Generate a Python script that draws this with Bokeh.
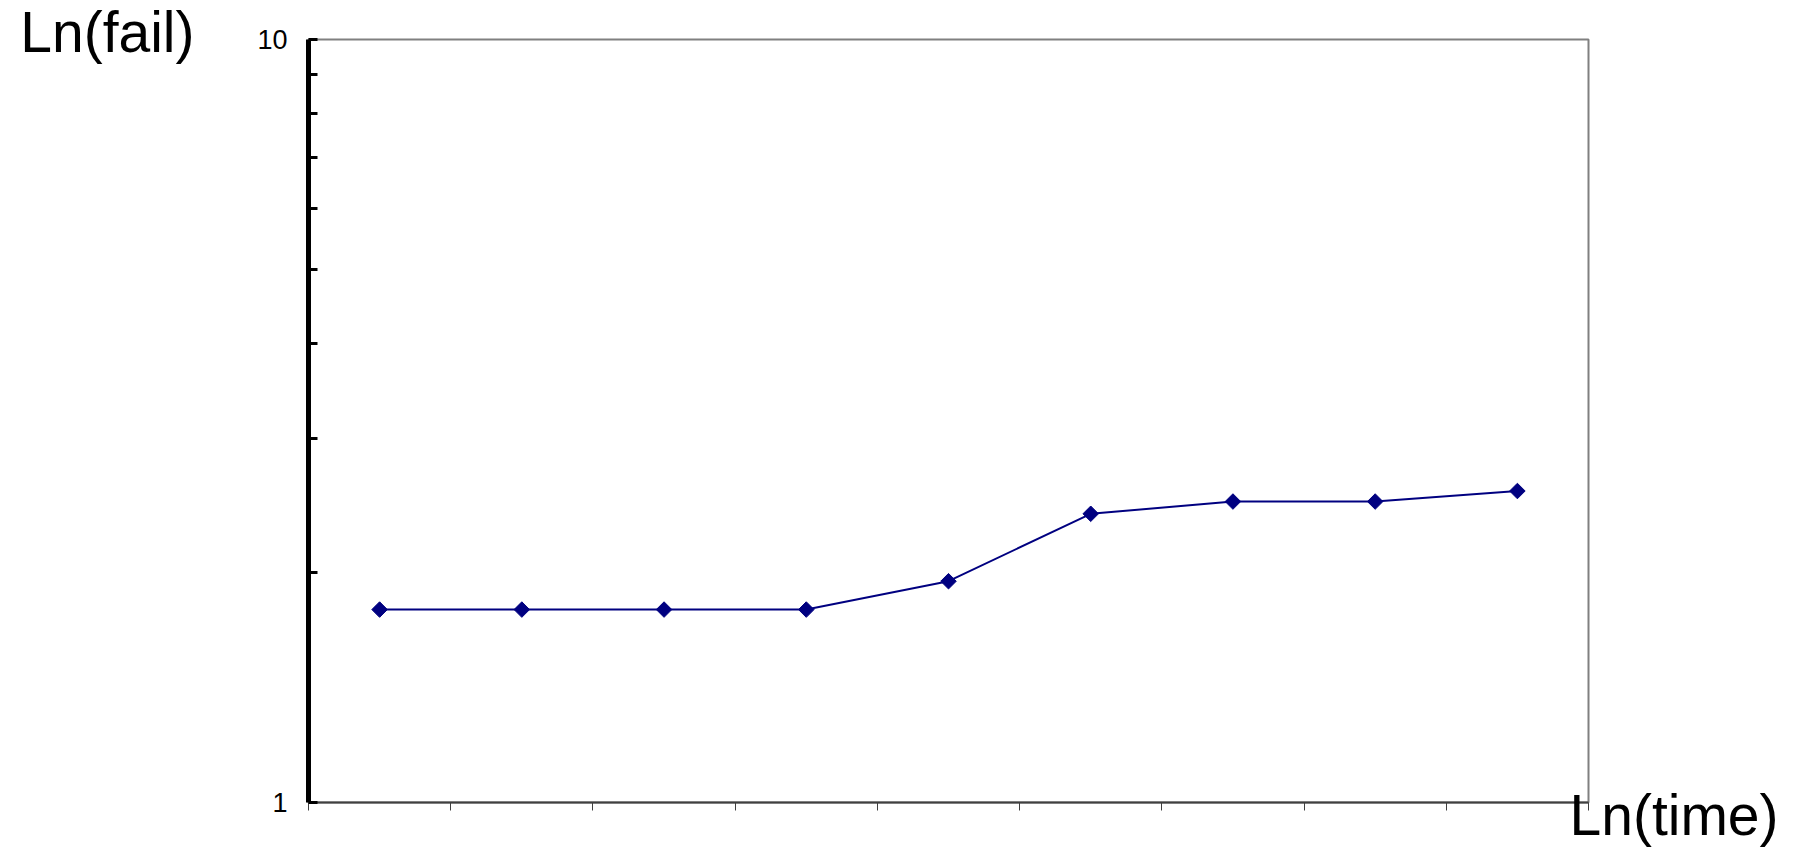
from bokeh.plotting import figure
from bokeh.models import Range1d, FixedTicker, LogAxis, CustomJSTickFormatter
from bokeh.embed import file_html
from bokeh.resources import INLINE
import math

# ---- data ----
times = [1, 2, 3, 4, 5, 6, 7, 8, 9]
fails = [1.79, 1.79, 1.79, 1.79, 1.95, 2.39, 2.48, 2.48, 2.56]
y_major_ticks = [1, 10]
y_minor_ticks = [2, 3, 4, 5, 6, 7, 8, 9]
y_tick_labels = {1: "1", 10: "10"}
x_title = "Ln(time)"
y_title = "Ln(fail)"

FONT = "Liberation Sans"
NAVY = "#000080"

p = figure(width=1806, height=847, output_backend="svg", toolbar_location=None,
           x_range=Range1d(times[0] - 0.5, times[-1] + 0.5),
           y_range=Range1d(y_major_ticks[0], y_major_ticks[-1]),
           y_axis_type="log",
           min_border_left=308, min_border_right=218,
           min_border_top=39, min_border_bottom=45)
p.background_fill_color = "white"
p.border_fill_color = "white"
p.outline_line_color = "#808080"
p.outline_line_width = 2
p.xgrid.visible = False
p.ygrid.visible = False

# x axis: ticks at category boundaries, no labels
xax = p.xaxis[0]
x_bounds = [t - 0.5 for t in times] + [times[-1] + 0.5]
xax.ticker = FixedTicker(ticks=x_bounds)
xax.formatter = CustomJSTickFormatter(code="return ''")
xax.major_label_text_font_size = "0px"
xax.major_label_standoff = 0
xax.axis_line_color = "#404040"
xax.axis_line_width = 2
xax.major_tick_line_color = "#404040"
xax.major_tick_line_width = 1
xax.major_tick_in = 0
xax.major_tick_out = 8
xax.minor_tick_line_color = None

# y axis: log, thick black, inward ticks
yax = p.yaxis[0]
yax.ticker = FixedTicker(ticks=y_major_ticks, minor_ticks=y_minor_ticks)
yax.major_label_overrides = y_tick_labels
yax.axis_line_color = "black"
yax.axis_line_width = 5
yax.major_tick_line_color = "black"
yax.major_tick_line_width = 3
yax.major_tick_in = 9
yax.major_tick_out = 0
yax.minor_tick_line_color = "black"
yax.minor_tick_line_width = 3
yax.minor_tick_in = 9
yax.minor_tick_out = 0
yax.major_label_text_font = FONT
yax.major_label_text_font_size = "27px"
yax.major_label_text_color = "black"
yax.major_label_standoff = 21


def title_axis(text, align, standoff, line_height):
    return LogAxis(ticker=FixedTicker(ticks=[]),
                   axis_label=text, axis_label_orientation="horizontal",
                   axis_label_align=align,
                   axis_label_standoff=standoff,
                   axis_label_text_font=FONT, axis_label_text_font_size="57px",
                   axis_label_text_font_style="normal",
                   axis_label_text_color="black",
                   axis_label_text_line_height=line_height,
                   axis_label_text_align="left",
                   axis_line_color=None, major_tick_line_color=None,
                   minor_tick_line_color=None, major_label_text_font_size="0px",
                   major_label_standoff=0, major_tick_in=0, major_tick_out=0,
                   minor_tick_in=0, minor_tick_out=0)


# titles as horizontal axis labels placed outside the frame;
# an empty line nudges each label away from the frame corner
p.add_layout(title_axis(y_title + "\n", "end", 60, 0.25), "left")
p.add_layout(title_axis("\n" + x_title, "start", -19, 0.40), "right")

# series
p.line(times, fails, line_color=NAVY, line_width=2)
p.scatter(times, fails, marker="square", angle=math.pi / 4, size=11,
          fill_color=NAVY, line_color=NAVY)

open("out.html", "w").write(file_html(p, INLINE))
